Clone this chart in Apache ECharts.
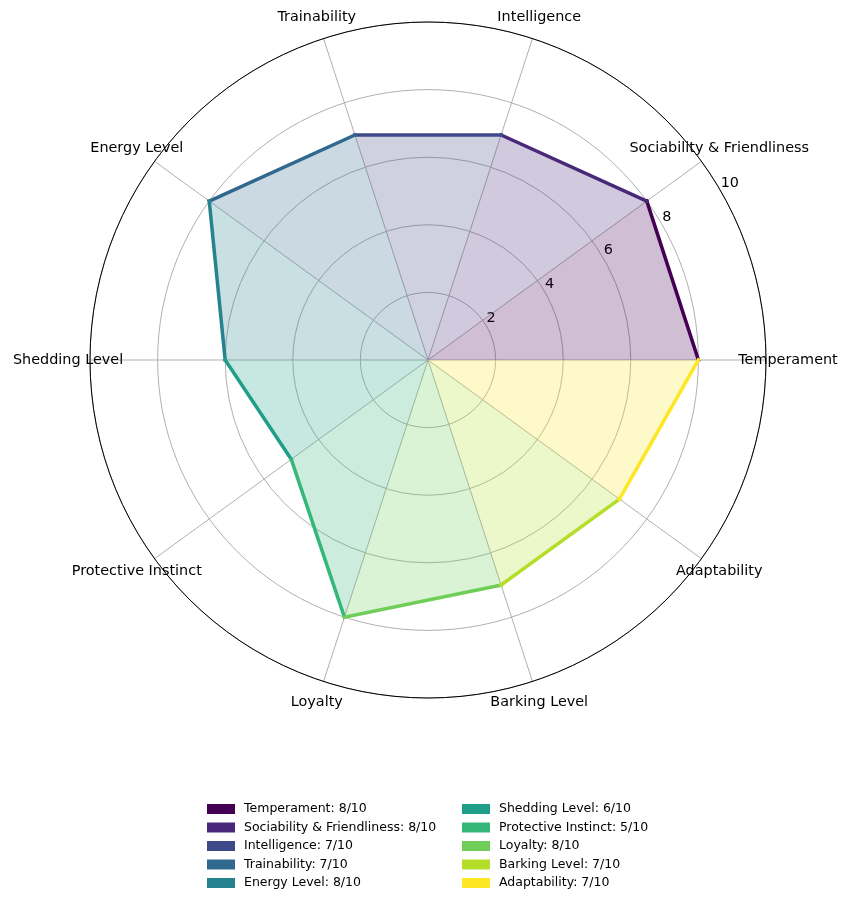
<!DOCTYPE html>
<html>
<head>
<meta charset="utf-8">
<script src="https://cdn.jsdelivr.net/npm/echarts@6/dist/echarts.min.js"></script>
<style>
  html, body { margin: 0; padding: 0; background: #fff; }
  #chart { width: 850px; height: 906px; }
</style>
</head>
<body>
<div id="chart"></div>
<script>
// dog breed traits, scored out of 10
const categories = ['Temperament', 'Sociability & Friendliness', 'Intelligence', 'Trainability',
    'Energy Level', 'Shedding Level', 'Protective Instinct', 'Loyalty', 'Barking Level', 'Adaptability'];
const scores = [8, 8, 7, 7, 8, 6, 5, 8, 7, 7];
const radialTicks = [0, 2, 4, 6, 8, 10];

// viridis, one per trait
const colors = ['#440154', '#482878', '#3e4989', '#31688e', '#26828e',
    '#1f9e89', '#35b779', '#6ece58', '#b5de2b', '#fde725'];

const n = categories.length;
const step = 360 / n;
const angles = categories.map((c, i) => i * step);
const names = categories.map((c, i) => c + ': ' + scores[i] + '/10');
const labelR = 10.65; // trait names sit just outside the outer ring

function fade(hex, a) {
    const r = parseInt(hex.slice(1, 3), 16), g = parseInt(hex.slice(3, 5), 16), b = parseInt(hex.slice(5, 7), 16);
    return 'rgba(' + r + ',' + g + ',' + b + ',' + a + ')';
}

const font = 'DejaVu Sans';
let myChart = echarts.init(document.getElementById('chart'), null, { renderer: 'canvas' });

let series = categories.map((c, i) => {
    const j = (i + 1) % n;
    return {
        name: names[i],
        type: 'custom',
        coordinateSystem: 'polar',
        polarIndex: 0,
        itemStyle: { color: colors[i] },
        data: [[scores[i], angles[i], scores[j], angles[j]]],
        renderItem: function (params, api) {
            const c0 = api.coord([0, 0]);
            const p1 = api.coord([api.value(0), api.value(1)]);
            const p2 = api.coord([api.value(2), api.value(3)]);
            return {
                type: 'group',
                children: [{
                    type: 'polygon',
                    shape: { points: [c0, p1, p2] },
                    style: { fill: fade(colors[i], 0.25), stroke: null }
                }, {
                    type: 'polyline',
                    shape: { points: [p1, p2] },
                    style: { stroke: colors[i], lineWidth: 3.5, lineCap: 'square', fill: null }
                }]
            };
        }
    };
});

// category names, centred on their spokes like matplotlib does
series.push({
    name: 'labels',
    type: 'custom',
    coordinateSystem: 'polar',
    polarIndex: 0,
    silent: true,
    data: angles.map(a => [labelR, a]),
    renderItem: function (params, api) {
        const p = api.coord([api.value(0), api.value(1)]);
        return {
            type: 'text',
            x: p[0],
            y: p[1],
            style: {
                text: categories[params.dataIndex],
                align: 'center',
                verticalAlign: 'middle',
                fontFamily: font,
                fontSize: 14.4,
                fill: '#000'
            }
        };
    }
});

let legendBase = {
    orient: 'vertical',
    icon: 'rect',
    itemWidth: 28,
    itemHeight: 10,
    itemGap: 4.5,
    padding: 0,
    top: 802,
    textStyle: { fontFamily: font, fontSize: 12.5, color: '#000', lineHeight: 14, padding: [0, 0, 0, 4] }
};

let option = {
    backgroundColor: '#fff',
    animation: false,
    polar: [
        { center: [428, 360], radius: 338 },
        { center: [428, 352], radius: 338 }
    ],
    angleAxis: [{
        polarIndex: 0,
        type: 'value',
        min: 0,
        max: 360,
        interval: step,
        startAngle: 0,
        clockwise: false,
        axisLine: { lineStyle: { color: '#000', width: 1 } },
        axisTick: { show: false },
        axisLabel: { show: false },
        splitLine: { show: true, lineStyle: { color: '#b0b0b0', width: 1 } }
    }, {
        polarIndex: 1,
        type: 'value',
        min: 0,
        max: 360,
        startAngle: 30,
        show: false
    }],
    radiusAxis: [{
        polarIndex: 0,
        type: 'value',
        min: radialTicks[0],
        max: radialTicks[radialTicks.length - 1],
        interval: 2,
        axisLine: { show: false },
        axisTick: { show: false },
        axisLabel: { show: false },
        splitLine: { show: true, lineStyle: { color: '#b0b0b0', width: 1 } }
    }, {
        polarIndex: 1,
        type: 'value',
        min: radialTicks[0],
        max: radialTicks[radialTicks.length - 1],
        interval: 2,
        axisLine: { show: false },
        axisTick: { show: false },
        splitLine: { show: false },
        axisLabel: {
            showMinLabel: false,
            margin: 0,
            align: 'left',
            verticalAlign: 'middle',
            fontFamily: font,
            fontSize: 14.4,
            color: '#000'
        }
    }],
    legend: [
        Object.assign({}, legendBase, { left: 207, data: names.slice(0, 5) }),
        Object.assign({}, legendBase, { left: 462, data: names.slice(5) })
    ],
    series: series
};
myChart.setOption(option);
</script>
</body>
</html>
